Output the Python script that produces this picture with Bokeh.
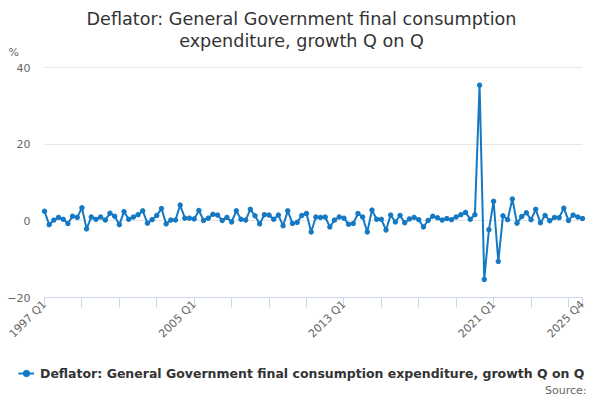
import math
from bokeh.plotting import figure
from bokeh.models import Range1d, FixedTicker, Legend, LegendItem, Label
from bokeh.embed import file_html
from bokeh.resources import INLINE

# ---- data ----
years = list(range(1997, 2026))
quarters = [f"{y} Q{q}" for y in years for q in (1, 2, 3, 4)]

growth = [
    2.5, -1.0, 0.2, 0.9, 0.4, -0.7, 1.2, 0.9, 3.4, -2.1,
    1.0, 0.4, 1.0, 0.2, 2.0, 1.2, -1.0, 2.4, 0.4, 1.0,
    1.6, 2.6, -0.6, 0.3, 1.4, 3.2, -0.8, 0.2, 0.2, 4.1,
    0.7, 0.7, 0.5, 2.7, 0.1, 0.7, 1.7, 1.5, 0.1, 0.9,
    -0.3, 2.6, 0.4, 0.2, 3.0, 1.3, -0.8, 1.6, 1.5, 0.4,
    1.5, -1.3, 2.6, -0.7, -0.4, 1.4, 1.9, -2.9, 1.0, 0.9,
    1.0, -1.6, 0.2, 1.0, 0.7, -0.9, -0.7, 1.9, 1.0, -2.9,
    2.8, 0.4, 0.4, -2.4, 1.5, -0.3, 1.4, -0.5, 0.5, 0.9,
    0.3, -1.6, 0.1, 1.2, 0.8, 0.2, 0.6, 0.3, 1.0, 1.6,
    2.2, 0.4, 1.6, 35.4, -15.3, -2.3, 5.1, -10.6, 1.3, 0.3,
    5.7, -0.6, 1.1, 2.1, 0.3, 3.0, -0.5, 1.4, 0.0, 0.9,
    0.8, 3.3, 0.1, 1.5, 1.0, 0.6,
]

tick_labels = ["1997 Q1", "2005 Q1", "2013 Q1", "2021 Q1", "2025 Q4"]
y_ticks = [-20, 0, 20, 40]

series_name = "Deflator: General Government final consumption expenditure, growth Q on Q"
title_lines = ["Deflator: General Government final consumption", "expenditure, growth Q on Q"]
unit_label = "%"
source_text = "Source:"

# ---- layout (pixels) ----
W, H = 600, 400
PL, PR, PT, PB = 44, 582, 67, 297          # plot area edges on the canvas
FONT = "DejaVu Sans"
BLUE = "#1479c4"

# ---- derived ----
idx = list(range(len(growth)))
n_last = len(quarters) - 1
y_lo, y_hi = min(y_ticks), max(y_ticks)
label_pos = {quarters.index(t): t for t in tick_labels}
x_ticks = list(range(0, len(quarters), 8)) + [n_last]
overrides = {i: label_pos.get(i, "") for i in x_ticks}

px_x = (PR - PL) / n_last
px_y = (PB - PT) / (y_hi - y_lo)
x_range = Range1d(0 - PL / px_x, n_last + (W - PR) / px_x)
y_range = Range1d(y_lo - (H - PB) / px_y, y_hi + PT / px_y)

p = figure(width=W, height=H, output_backend="svg", toolbar_location=None,
           x_range=x_range, y_range=y_range, min_border=0)
p.title.visible = False
p.outline_line_color = None

line_r = p.line(idx, growth, line_width=2, color=BLUE)
dots = p.scatter(idx, growth, size=4.5, color=BLUE)

# y axis, drawn at the left edge of the plot area
p.yaxis.fixed_location = 0
p.yaxis.bounds = (y_lo, y_hi)
p.yaxis.ticker = FixedTicker(ticks=y_ticks)
p.yaxis.axis_line_color = None
p.yaxis.major_tick_line_color = None
p.yaxis.minor_tick_line_color = None
p.yaxis.major_tick_out = 0
p.yaxis.major_tick_in = 0
p.yaxis.major_label_standoff = 14
p.yaxis.major_label_text_font_size = "11px"
p.yaxis.major_label_text_color = "#666666"
p.yaxis.major_label_text_font = FONT

# x axis, drawn at the bottom of the plot area
p.xaxis.fixed_location = y_lo
p.xaxis.bounds = (0, n_last)
p.xaxis.ticker = FixedTicker(ticks=x_ticks)
p.xaxis.major_label_overrides = overrides
p.xaxis.axis_line_color = "#ccd6eb"
p.xaxis.major_tick_line_color = "#ccd6eb"
p.xaxis.minor_tick_line_color = None
p.xaxis.major_tick_out = 10
p.xaxis.major_tick_in = 0
p.xaxis.major_label_orientation = math.pi / 4
p.xaxis.major_label_standoff = -5
p.xaxis.major_label_text_font_size = "11px"
p.xaxis.major_label_text_color = "#666666"
p.xaxis.major_label_text_font = FONT

p.xgrid.visible = False
g = p.ygrid[0]
g.grid_line_color = "#e6e6e6"
if "cross_bounds" in g.properties():
    g.cross_bounds = (0, n_last)

# texts (screen units from the bottom-left corner)
for text, yc in zip(title_lines, [18, 40]):
    p.add_layout(Label(x=W / 2 + 1, y=H - yc, x_units="screen", y_units="screen", text=text,
                       text_align="center", text_baseline="middle",
                       text_font_size="17.6px", text_color="#333333", text_font=FONT))
p.add_layout(Label(x=8, y=H - 52, x_units="screen", y_units="screen", text=unit_label,
                   text_align="left", text_baseline="middle",
                   text_font_size="11px", text_color="#666666", text_font=FONT))
p.add_layout(Label(x=586, y=10, x_units="screen", y_units="screen", text=source_text,
                   text_align="right", text_baseline="middle",
                   text_font_size="11px", text_color="#666666", text_font=FONT))

legend = Legend(items=[LegendItem(label=series_name, renderers=[line_r, dots])],
                location=(18, 19), orientation="horizontal",
                border_line_color=None, background_fill_alpha=0,
                padding=0, margin=0, glyph_width=16, glyph_height=16,
                label_height=16, label_standoff=6, label_text_font_size="12.5px",
                label_text_font_style="bold", label_text_color="#333333",
                label_text_font=FONT)
p.add_layout(legend)

open("out.html", "w").write(file_html(p, INLINE))
